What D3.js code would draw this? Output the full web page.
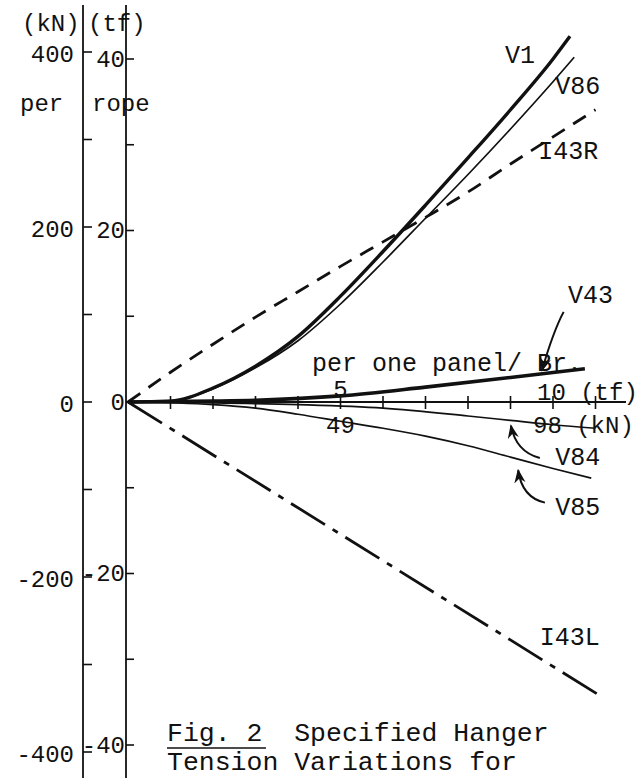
<!DOCTYPE html>
<html>
<head>
<meta charset="utf-8">
<script src="https://cdn.jsdelivr.net/npm/d3@7"></script>
<style>
  body { margin: 0; background: #fff; }
  svg { display: block; }
  text { font-family: "Liberation Mono", "DejaVu Sans Mono", monospace; fill: #111; }
</style>
</head>
<body>
<script>
// données : x en tf (par panneau), y en kN (par câble)
const v1 = [[0, 0], [1, 1], [2, 16], [3, 41], [4, 75], [5, 121], [6, 172], [7, 225], [8, 279], [9, 334], [10, 392], [10.4, 418]];
const v86 = [[0, 0], [1, 1], [2, 15], [3, 39], [4, 70], [5, 112], [6, 160], [7, 210], [8, 260], [9, 312], [10, 366], [10.5, 394]];
const i43r = [[0, 0], [1, 34], [2, 66], [3, 97], [4, 126], [5, 155], [6, 183], [7, 211], [8, 240], [9, 272], [10, 303], [11, 334]];
const v43 = [[0, 0], [2, 1], [3, 2], [5, 7], [7, 17], [9, 28], [10.75, 38]];
const v84 = [[0, 0], [2, -1], [4, -3], [6, -7], [8, -16], [9, -21], [10, -26], [11, -30]];
const v85 = [[0, 0], [2, -3], [3, -7], [4, -14], [5, -22], [6, -30], [7, -39], [8, -50], [9, -63], [10, -76], [10.9, -87]];
const i43l = [[0, 0], [11.15, -337]];

const kNLabels = [400, 200, 0, -200, -400];
const kNTicks = [400, 300, 200, 100, 0, -100, -200, -300, -400];
const tfLabels = [40, 20, 0, -20, -40];
const tfTicks = [40, 30, 20, 10, -10, -20, -30, -40];
const xTicks = [1, 2, 3, 4, 5, 6, 7, 8, 9, 10, 11];

// étiquettes des courbes : [texte, x tf, y kN]
const curveLabels = [
    ["V1", 8.87, 387],
    ["V86", 10.05, 352],
    ["I43R", 9.65, 278],
    ["V43", 10.35, 113],
    ["V84", 10.05, -72],
    ["V85", 10.05, -129],
    ["I43L", 9.69, -278]
];

// flèches : départ, contrôle, pointe
const arrows = [
    [[10.25, 103], [10.0, 80], [9.74, 36]],
    [[9.69, -64], [9.13, -57], [9.01, -27]],
    [[9.81, -115], [9.27, -109], [9.18, -78]]
];

let width = 637, height = 778;

let svg = d3.select("body")
    .append("svg")
    .attr("width", width)
    .attr("height", height);

let xLeft = 83, xRight = 126;

// échelles
let x = d3.scaleLinear().domain([0, 10]).range([128, 553]);
let y = d3.scaleLinear().domain([-400, 400]).range([752, 52]);
let yTf = t => y(t * 9.8);

let ink = "#111";

// axes verticaux
svg.append("line")
    .attr("x1", xLeft).attr("x2", xLeft)
    .attr("y1", 5).attr("y2", height)
    .attr("stroke", ink).attr("stroke-width", 1.8);

svg.append("line")
    .attr("x1", xRight).attr("x2", xRight)
    .attr("y1", 5).attr("y2", height)
    .attr("stroke", ink).attr("stroke-width", 1.8);

svg.selectAll(".tkn")
    .data(kNTicks)
    .enter().append("line")
    .attr("x1", xLeft).attr("x2", xLeft + 9)
    .attr("y1", d => y(d)).attr("y2", d => y(d))
    .attr("stroke", ink).attr("stroke-width", 1.6);

svg.selectAll(".ttf")
    .data(tfTicks)
    .enter().append("line")
    .attr("x1", xRight).attr("x2", xRight + 8)
    .attr("y1", d => yTf(d)).attr("y2", d => yTf(d))
    .attr("stroke", ink).attr("stroke-width", 1.6);

svg.selectAll(".lkn")
    .data(kNLabels)
    .enter().append("text")
    .attr("x", 74)
    .attr("y", d => y(d) + 3)
    .attr("text-anchor", "end")
    .attr("dominant-baseline", "central")
    .style("font-size", "24px")
    .text(d => d);

svg.selectAll(".ltf")
    .data(tfLabels)
    .enter().append("text")
    .attr("x", 125)
    .attr("y", d => yTf(d) + 1)
    .attr("text-anchor", "end")
    .attr("dominant-baseline", "central")
    .style("font-size", "24px")
    .text(d => d);

svg.append("text").attr("x", 22).attr("y", 31).style("font-size", "24px").text("(kN)");
svg.append("text").attr("x", 88).attr("y", 31).style("font-size", "24px").text("(tf)");
svg.append("text").attr("x", 20).attr("y", 111).style("font-size", "24px")
    .attr("xml:space", "preserve").style("white-space", "pre").text("per  rope");

// axe horizontal
svg.append("line")
    .attr("x1", xRight).attr("x2", 626)
    .attr("y1", y(0)).attr("y2", y(0))
    .attr("stroke", ink).attr("stroke-width", 2);

svg.selectAll(".tx")
    .data(xTicks)
    .enter().append("line")
    .attr("x1", d => x(d)).attr("x2", d => x(d))
    .attr("y1", y(0) - 6).attr("y2", y(0) + 7)
    .attr("stroke", ink).attr("stroke-width", 1.6);

svg.append("text").attr("x", x(5)).attr("y", 397).attr("text-anchor", "middle")
    .style("font-size", "24px").text("5");
svg.append("text").attr("x", x(10) - 16).attr("y", 400)
    .style("font-size", "24px").text("10 (tf)");
svg.append("text").attr("x", x(5)).attr("y", 433).attr("text-anchor", "middle")
    .style("font-size", "24px").text("49");
svg.append("text").attr("x", x(10) - 20).attr("y", 433)
    .style("font-size", "24px").text("98 (kN)");

svg.append("text").attr("x", x(4.33)).attr("y", y(35))
    .style("font-size", "25px").text("per one panel/ Br.");

// courbes
let line = d3.line()
    .x(d => x(d[0]))
    .y(d => y(d[1]))
    .curve(d3.curveMonotoneX);

let series = [
    { data: v1, w: 3.4, dash: null },
    { data: v86, w: 1.7, dash: null },
    { data: i43r, w: 2.8, dash: "15,10" },
    { data: v43, w: 3.6, dash: null },
    { data: v84, w: 1.7, dash: null },
    { data: v85, w: 1.7, dash: null },
    { data: i43l, w: 2.8, dash: "40,9,6,9" }
];

svg.selectAll(".serie")
    .data(series)
    .enter().append("path")
    .attr("d", d => line(d.data))
    .attr("fill", "none")
    .attr("stroke", ink)
    .attr("stroke-width", d => d.w)
    .attr("stroke-dasharray", d => d.dash);

svg.selectAll(".lab")
    .data(curveLabels)
    .enter().append("text")
    .attr("x", d => x(d[1]))
    .attr("y", d => y(d[2]))
    .style("font-size", "25px")
    .text(d => d[0]);

// flèches
svg.append("defs").append("marker")
    .attr("id", "tete")
    .attr("viewBox", "0 0 10 10")
    .attr("refX", 9).attr("refY", 5)
    .attr("markerWidth", 14).attr("markerHeight", 14)
    .attr("markerUnits", "userSpaceOnUse")
    .attr("orient", "auto")
    .append("path")
    .attr("d", "M0,1 L10,5 L0,9 L3,5 Z")
    .attr("fill", ink);

svg.selectAll(".fleche")
    .data(arrows)
    .enter().append("path")
    .attr("d", d => "M" + x(d[0][0]) + "," + y(d[0][1]) +
        " Q" + x(d[1][0]) + "," + y(d[1][1]) +
        " " + x(d[2][0]) + "," + y(d[2][1]))
    .attr("fill", "none")
    .attr("stroke", ink)
    .attr("stroke-width", 2)
    .attr("marker-end", "url(#tete)");

// légende de la figure
svg.append("text").attr("x", 167).attr("y", 741)
    .attr("xml:space", "preserve").style("white-space", "pre")
    .style("font-size", "26.5px").text("Fig. 2  Specified Hanger");
svg.append("line").attr("x1", 167).attr("x2", 266)
    .attr("y1", 748).attr("y2", 748)
    .attr("stroke", ink).attr("stroke-width", 1.5);
svg.append("text").attr("x", 167).attr("y", 770)
    .style("font-size", "26.5px").text("Tension Variations for");
</script>
</body>
</html>
